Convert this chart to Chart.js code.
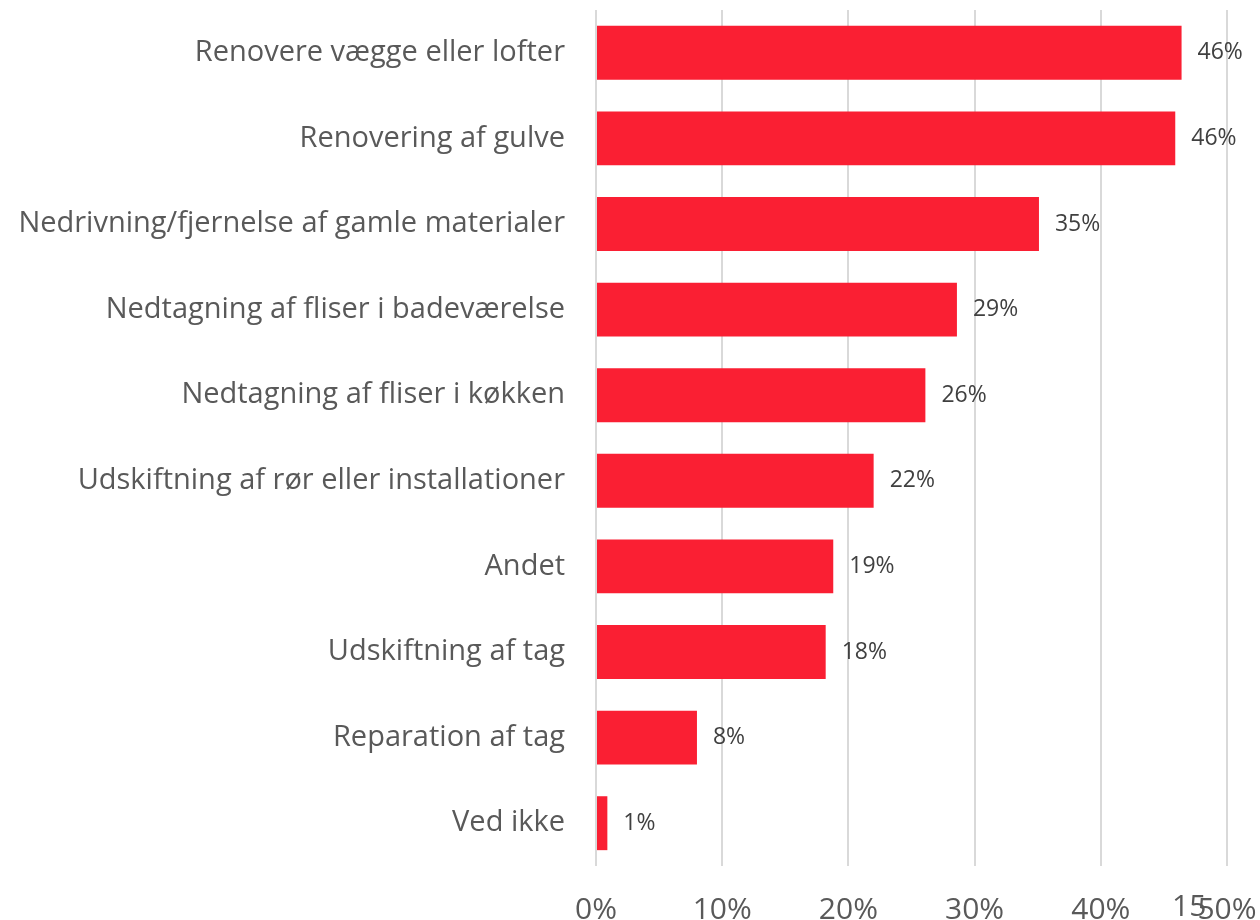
<!DOCTYPE html>
<html>
<head>
<meta charset="utf-8">
<script src="https://cdn.jsdelivr.net/npm/chart.js@4/dist/chart.umd.min.js"></script>
<style>
  html, body { margin: 0; padding: 0; background: #ffffff; }
  #wrap { width: 1260px; height: 920px; position: relative; }
</style>
</head>
<body>
<div id="wrap"><canvas id="chart"></canvas></div>
<script>
/* ── Data ── */
const categories = [
  'Renovere vægge eller lofter',
  'Renovering af gulve',
  'Nedrivning/fjernelse af gamle materialer',
  'Nedtagning af fliser i badeværelse',
  'Nedtagning af fliser i køkken',
  'Udskiftning af rør eller installationer',
  'Andet',
  'Udskiftning af tag',
  'Reparation af tag',
  'Ved ikke'
];
const shares = [46.4, 45.9, 35.1, 28.6, 26.1, 22.0, 18.8, 18.2, 8.0, 0.9];
const tickValues = [0, 10, 20, 30, 40, 50];
const strayText = '15';

const FONT = '"Open Sans", Roboto, sans-serif';
const BAR_RED = '#FA1F33';

/* value labels at the end of each bar, plus the stray "15" near the last tick */
const barLabels = {
  id: 'barLabels',
  afterDatasetsDraw(chart) {
    const ctx = chart.ctx;
    const meta = chart.getDatasetMeta(0);
    ctx.save();
    ctx.font = '23px ' + FONT;
    ctx.fillStyle = '#404040';
    ctx.textAlign = 'left';
    ctx.textBaseline = 'middle';
    meta.data.forEach((bar, i) => {
      ctx.fillText(Math.round(shares[i]) + '%', bar.x + 16, bar.y);
    });
    ctx.restore();
  },
  afterDraw(chart) {
    const ctx = chart.ctx;
    const x = chart.scales.x;
    ctx.save();
    ctx.font = '30px ' + FONT;
    ctx.fillStyle = '#595959';
    ctx.textAlign = 'left';
    ctx.textBaseline = 'middle';
    ctx.fillText(strayText, x.getPixelForValue(50) - 55, 907);
    ctx.restore();
  }
};

new Chart(document.getElementById('chart'), {
  type: 'bar',
  data: {
    labels: categories,
    datasets: [{
      data: shares,
      backgroundColor: BAR_RED,
      borderWidth: 0,
      categoryPercentage: 1,
      barPercentage: 0.63
    }]
  },
  options: {
    responsive: true,
    maintainAspectRatio: false,
    animation: false,
    indexAxis: 'y',
    layout: { padding: { top: 10, right: 33, left: 0, bottom: 0 } },
    plugins: {
      legend: { display: false },
      tooltip: { enabled: false }
    },
    scales: {
      x: {
        min: 0,
        max: 50,
        afterBuildTicks(scale) {
          scale.ticks = tickValues.map(v => ({ value: v }));
        },
        afterFit(scale) {
          scale.height = 54;
          scale.paddingLeft = 0;
          scale.paddingRight = 0;
        },
        grid: { color: '#D9D9D9', lineWidth: 2, drawTicks: false },
        border: { display: false },
        ticks: {
          padding: 26,
          color: '#595959',
          font: { family: FONT, size: 30 },
          callback: v => v + '%'
        }
      },
      y: {
        afterFit(scale) {
          scale.width = 596;
          scale.paddingTop = 0;
          scale.paddingBottom = 0;
        },
        grid: { display: false, drawTicks: false },
        border: { display: false },
        ticks: {
          padding: 31,
          color: '#595959',
          font: { family: FONT, size: 29 }
        }
      }
    }
  },
  plugins: [barLabels]
});
</script>
</body>
</html>
